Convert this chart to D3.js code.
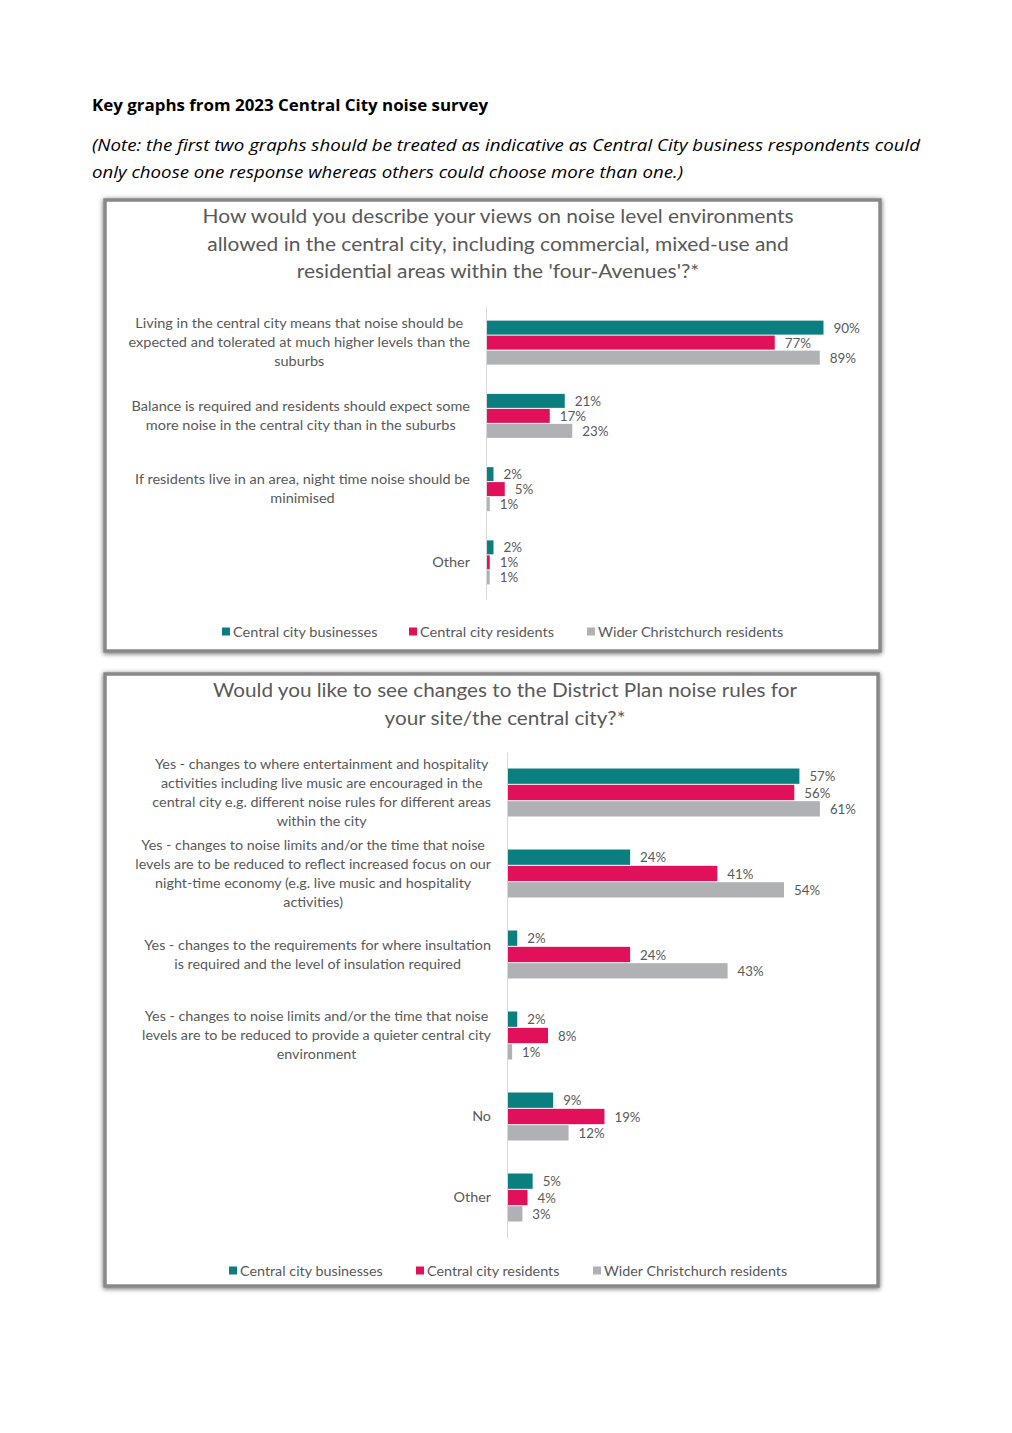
<!DOCTYPE html>
<html><head><meta charset="utf-8">
<script src="https://cdn.jsdelivr.net/npm/d3@7"></script>
<style>body{margin:0;background:#fff}</style>
</head><body>
<svg id="c" width="1012" height="1433"></svg>
<script>
const seriesNames = ["Central city businesses", "Central city residents", "Wider Christchurch residents"];
const seriesColors = ["#0b7f7f", "#e0115a", "#b0b1b5"];

const headingText = "Key graphs from 2023 Central City noise survey";
const noteLines = ["(Note: the first two graphs should be treated as indicative as Central City business respondents could",
                   "only choose one response whereas others could choose more than one.)"];

const chart1Title = ["How would you describe your views on noise level environments",
  "allowed in the central city, including commercial, mixed-use and",
  "residential areas within the 'four-Avenues'?*"];
const chart1Categories = [
  ["Living in the central city means that noise should be", "expected and tolerated at much higher levels than the", "suburbs"],
  ["Balance is required and residents should expect some", "more noise in the central city than in the suburbs"],
  ["If residents live in an area, night time noise should be", "minimised"],
  ["Other"]
];
const chart1Businesses = [90, 21, 2, 2];
const chart1Residents = [77, 17, 5, 1];
const chart1Wider = [89, 23, 1, 1];

const chart2Title = ["Would you like to see changes to the District Plan noise rules for",
  "your site/the central city?*"];
const chart2Categories = [
  ["Yes - changes to where entertainment and hospitality", "activities including live music are encouraged in the", "central city e.g. different noise rules for different areas", "within the city"],
  ["Yes - changes to noise limits and/or the time that noise", "levels are to be reduced to reflect increased focus on our", "night-time economy (e.g. live music and hospitality", "activities)"],
  ["Yes - changes to the requirements for where insultation", "is required and the level of insulation required"],
  ["Yes - changes to noise limits and/or the time that noise", "levels are to be reduced to provide a quieter central city", "environment"],
  ["No"],
  ["Other"]
];
const chart2Businesses = [57, 24, 2, 2, 9, 5];
const chart2Residents = [56, 41, 24, 8, 19, 4];
const chart2Wider = [61, 54, 43, 1, 12, 3];

const svg = d3.select("#c");
svg.append("rect").attr("width", 1012).attr("height", 1433).attr("fill", "#fff");

const defs = svg.append("defs");
const f = defs.append("filter").attr("id", "sh").attr("x", "-5%").attr("y", "-5%").attr("width", "110%").attr("height", "110%");
f.append("feGaussianBlur").attr("in", "SourceAlpha").attr("stdDeviation", 2.5).attr("result", "b");
f.append("feOffset").attr("in", "b").attr("dx", 0).attr("dy", 1).attr("result", "o");
f.append("feComponentTransfer").attr("in", "o").attr("result", "o2")
  .append("feFuncA").attr("type", "linear").attr("slope", 0.6);
const m = f.append("feMerge");
m.append("feMergeNode").attr("in", "o2");
m.append("feMergeNode").attr("in", "SourceGraphic");

function fit(sel, w) {
  sel.attr("textLength", w).attr("lengthAdjust", "spacingAndGlyphs");
}
function condense(sel, k) {
  let maxW = 0;
  sel.each(function () {
    const w = this.getComputedTextLength() * k;
    maxW = Math.max(maxW, w);
    d3.select(this).attr("textLength", w).attr("lengthAdjust", "spacingAndGlyphs");
  });
  return maxW;
}

// Heading
const head = svg.append("text").attr("x", 92).attr("y", 111)
  .attr("font-family", "Open Sans").attr("font-weight", "bold").attr("font-size", 16)
  .attr("fill", "#000").text(headingText);
fit(head, 396);
const noteW = [828, 591];
noteLines.forEach((t, i) => {
  const n = svg.append("text").attr("x", 92).attr("y", 151 + i * 27)
    .attr("font-family", "Open Sans").attr("font-style", "italic").attr("font-size", 17)
    .attr("fill", "#000").text(t);
  fit(n, noteW[i]);
});

const FONT = "Lato";
const TXT = "#595959";

function drawChart(cfg) {
  const g = svg.append("g");
  g.append("rect").attr("x", cfg.box[0]).attr("y", cfg.box[1]).attr("width", cfg.box[2]).attr("height", cfg.box[3])
    .attr("fill", "#fff").attr("stroke", "#888").attr("stroke-width", 3.5).attr("filter", "url(#sh)");

  // Title
  const titles = g.selectAll(".t").data(cfg.title).join("text")
    .attr("x", cfg.titleX).attr("y", (d, i) => cfg.titleY + i * cfg.titleLH)
    .attr("text-anchor", "middle").attr("font-family", FONT).attr("font-size", 19.5)
    .attr("fill", TXT).text(d => d);
  const k = cfg.titleW / titles.node().getComputedTextLength();
  condense(titles, k);

  const x = d3.scaleLinear().domain([0, 100]).range([cfg.axisX, cfg.axisX + cfg.pxPer100]);
  const y = d3.scaleBand().domain(d3.range(cfg.cats.length)).range(cfg.yRange).padding(0);
  const sub = d3.scaleBand().domain(d3.range(seriesNames.length)).range([0, cfg.groupH]);

  const vals = [cfg.s1, cfg.s2, cfg.s3];
  const rows = [];
  vals.forEach((arr, si) => arr.forEach((v, ci) => rows.push({ si, ci, v })));
  const yTop = (d) => y(d.ci) + y.bandwidth() / 2 - cfg.groupH / 2 + sub(d.si);

  g.selectAll(".bar").data(rows).join("rect")
    .attr("x", x(0)).attr("y", d => yTop(d) + 0.5)
    .attr("width", d => x(d.v) - x(0)).attr("height", sub.bandwidth() - 1)
    .attr("fill", d => seriesColors[d.si]);

  const vl = g.selectAll(".vl").data(rows).join("text")
    .attr("x", d => x(d.v) + 10).attr("y", d => yTop(d) + sub.bandwidth() / 2 + 5)
    .attr("font-family", FONT).attr("font-size", 12.5).attr("fill", TXT)
    .text(d => d.v + "%");
  condense(vl, k);

  // axis line
  const ax = g.append("g").attr("transform", `translate(${cfg.axisX},0)`)
    .call(d3.axisLeft(y).tickSize(0).tickSizeOuter(0).tickFormat(""));
  ax.select(".domain").attr("stroke", "#d9d9d9").attr("stroke-width", 1);

  // category labels: block right-aligned to axis, lines centred within block
  const lh = 19;
  const right = cfg.axisX - 16;
  cfg.cats.forEach((lines, ci) => {
    const cy = y(ci) + y.bandwidth() / 2;
    const t = g.selectAll(null).data(lines).join("text")
      .attr("y", (d, i) => cy + (i - (lines.length - 1) / 2) * lh + 4.5)
      .attr("text-anchor", "middle").attr("font-family", FONT).attr("font-size", 13.5).attr("fill", TXT)
      .text(d => d);
    const maxW = condense(t, k);
    t.attr("x", right - maxW / 2);
  });

  // legend
  seriesNames.forEach((nm, i) => {
    g.append("rect").attr("x", cfg.legendX[i]).attr("y", cfg.legendY - 4.5).attr("width", 8).attr("height", 8)
      .attr("fill", seriesColors[i]);
    const lt = g.append("text").attr("x", cfg.legendX[i] + 11).attr("y", cfg.legendY + 4.5)
      .attr("font-family", FONT).attr("font-size", 13.5).attr("fill", TXT).text(nm);
    condense(lt, k);
  });
}

drawChart({
  box: [105, 200, 775, 451], title: chart1Title, titleX: 498, titleY: 223, titleLH: 27.5, titleW: 591,
  cats: chart1Categories, s1: chart1Businesses, s2: chart1Residents, s3: chart1Wider,
  axisX: 486, pxPer100: 375, yRange: [306, 599], groupH: 45,
  legendY: 632, legendX: [222, 409, 587]
});
drawChart({
  box: [105, 674, 773, 612], title: chart2Title, titleX: 505, titleY: 697, titleLH: 27.5, titleW: 584,
  cats: chart2Categories, s1: chart2Businesses, s2: chart2Residents, s3: chart2Wider,
  axisX: 507, pxPer100: 513, yRange: [752, 1238], groupH: 49,
  legendY: 1271, legendX: [229, 416, 593]
});
</script>
</body></html>
